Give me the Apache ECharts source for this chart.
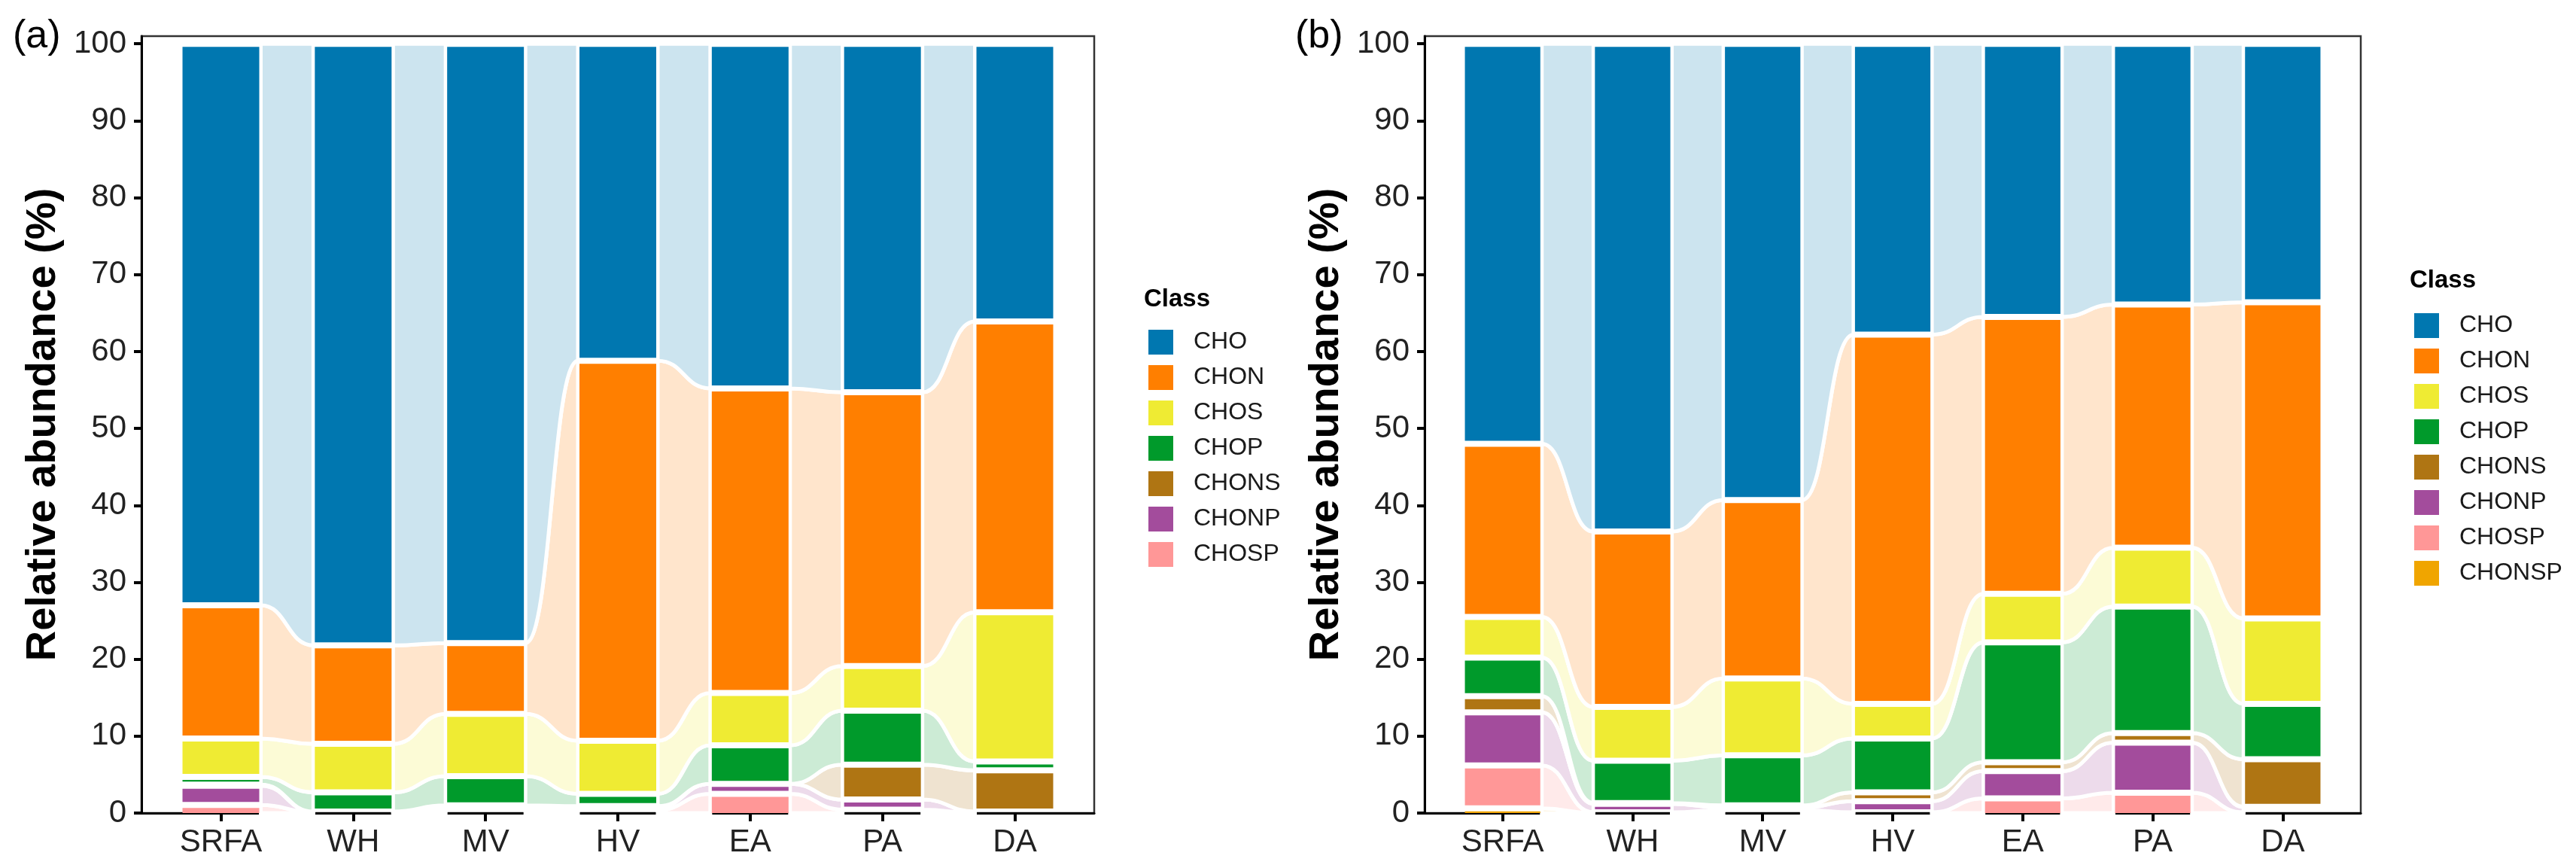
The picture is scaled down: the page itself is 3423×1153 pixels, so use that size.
<!DOCTYPE html>
<html>
<head>
    <meta charset="utf-8">
    <title>Alluvial</title>
    <script src="https://cdn.jsdelivr.net/npm/echarts@6/dist/echarts.min.js"></script>
    <style>
        html, body { margin: 0; padding: 0; background: #fff; }
    </style>
</head>
<body>
<div id="main" style="width: 3423px;height:1153px;"></div>
<script type="text/javascript">
    // samples and tick labels
    var samples = ['SRFA', 'WH', 'MV', 'HV', 'EA', 'PA', 'DA'];
    var yTicks = [0, 10, 20, 30, 40, 50, 60, 70, 80, 90, 100];
    var classesA = ['CHO', 'CHON', 'CHOS', 'CHOP', 'CHONS', 'CHONP', 'CHOSP'];
    var classesB = ['CHO', 'CHON', 'CHOS', 'CHOP', 'CHONS', 'CHONP', 'CHOSP', 'CHONSP'];

    // (a) relative abundance, %
    var A_CHO    = [73.0, 78.2, 77.9, 41.2, 44.8, 45.3, 36.1];
    var A_CHON   = [17.3, 12.8, 9.2, 49.4, 39.6, 35.6, 37.8];
    var A_CHOS   = [5.0, 6.3, 8.1, 6.9, 6.8, 5.8, 19.4];
    var A_CHOP   = [1.0, 2.5, 3.8, 1.6, 5.0, 7.0, 1.15];
    var A_CHONS  = [0.15, 0.0, 0.3, 0.1, 0.0, 4.55, 5.35];
    var A_CHONP  = [2.5, 0.1, 0.3, 0.4, 1.3, 1.3, 0.2];
    var A_CHOSP  = [1.05, 0.1, 0.4, 0.4, 2.5, 0.45, 0.0];

    // (b) relative abundance, %
    var B_CHO    = [52.0, 63.4, 59.3, 37.8, 35.5, 33.9, 33.6];
    var B_CHON   = [22.5, 22.8, 23.2, 48.0, 36.0, 31.6, 41.1];
    var B_CHOS   = [5.3, 7.0, 10.0, 4.5, 6.3, 7.65, 11.1];
    var B_CHOP   = [5.0, 5.5, 6.5, 7.0, 15.6, 16.45, 7.2];
    var B_CHONS  = [2.1, 0.1, 0.3, 1.15, 1.15, 1.25, 6.2];
    var B_CHONP  = [6.9, 1.1, 0.3, 1.45, 3.55, 6.5, 0.7];
    var B_CHOSP  = [5.6, 0.1, 0.4, 0.1, 1.9, 2.65, 0.1];
    var B_CHONSP = [0.6, 0.0, 0.0, 0.0, 0.0, 0.0, 0.0];

    var colors = {
        CHO: '#0077B0', CHON: '#FF7F00', CHOS: '#EFEB33', CHOP: '#009A2B',
        CHONS: '#AF7513', CHONP: '#A34C9C', CHOSP: '#FF9797', CHONSP: '#F0A500'
    };

    var FONT = 'Liberation Sans';
    var HALF = 0.29;   // half bar width, axis units

    function light(hex) {
        var r = parseInt(hex.substr(1, 2), 16), g = parseInt(hex.substr(3, 2), 16), b = parseInt(hex.substr(5, 2), 16);
        var m = function (c) { return Math.round(255 - 0.2 * (255 - c)); };
        return 'rgb(' + m(r) + ',' + m(g) + ',' + m(b) + ')';
    }

    var panels = [
        {classes: classesA, values: {CHO: A_CHO, CHON: A_CHON, CHOS: A_CHOS, CHOP: A_CHOP, CHONS: A_CHONS, CHONP: A_CHONP, CHOSP: A_CHOSP}},
        {classes: classesB, values: {CHO: B_CHO, CHON: B_CHON, CHOS: B_CHOS, CHOP: B_CHOP, CHONS: B_CHONS, CHONP: B_CHONP, CHOSP: B_CHOSP, CHONSP: B_CHONSP}}
    ];

    function renderBar(params, api) {
        var i = api.value(0), lo = api.value(1), hi = api.value(2);
        var a = api.coord([i - HALF, hi]);
        var b = api.coord([i + HALF, lo]);
        var top = a[1] + 4;
        var bottom = lo <= 0 ? b[1] : b[1] - 4;
        if (bottom - top < 0.8) return null;
        return {
            type: 'rect',
            shape: {x: a[0], y: top, width: b[0] - a[0], height: bottom - top},
            style: {fill: api.visual('color')}
        };
    }

    function renderFlow(params, api) {
        var i = api.value(0);
        var lo0 = api.value(1), hi0 = api.value(2), lo1 = api.value(3), hi1 = api.value(4);
        if (hi0 - lo0 <= 0 && hi1 - lo1 <= 0) return null;
        var xa = api.coord([i + HALF, 0])[0] + 2;
        var xb = api.coord([i + 1 - HALF, 0])[0] - 2;
        var xm = (xa + xb) / 2;
        var t0 = api.coord([i, hi0])[1], b0 = api.coord([i, lo0])[1];
        var t1 = api.coord([i, hi1])[1], b1 = api.coord([i, lo1])[1];
        var d = 'M' + xa + ' ' + t0 + ' C' + xm + ' ' + t0 + ' ' + xm + ' ' + t1 + ' ' + xb + ' ' + t1 +
            ' L' + xb + ' ' + b1 + ' C' + xm + ' ' + b1 + ' ' + xm + ' ' + b0 + ' ' + xa + ' ' + b0 + ' Z';
        return {
            type: 'path',
            shape: {pathData: d},
            style: {fill: light(api.visual('color')), stroke: '#fff', lineWidth: 5}
        };
    }

    var series = [];
    panels.forEach(function (p, pi) {
        var order = p.classes.slice().reverse();   // bottom to top
        var base = samples.map(function () { return 0; });
        order.forEach(function (cls) {
            var v = p.values[cls];
            var lo = base.slice();
            var hi = base.map(function (b, i) { return b + v[i]; });
            base = hi;
            var barData = [], flowData = [];
            for (var i = 0; i < samples.length; i++) {
                barData.push([i, lo[i], hi[i]]);
                if (i < samples.length - 1) flowData.push([i, lo[i], hi[i], lo[i + 1], hi[i + 1]]);
            }
            series.push({
                name: cls, type: 'custom', xAxisIndex: pi, yAxisIndex: pi, z: 1,
                itemStyle: {color: colors[cls]}, renderItem: renderFlow, data: flowData,
                encode: {x: 0, y: [1, 2, 3, 4]}, silent: true
            });
            series.push({
                name: cls, type: 'custom', xAxisIndex: pi, yAxisIndex: pi, z: 2,
                itemStyle: {color: colors[cls]}, renderItem: renderBar, data: barData,
                encode: {x: 0, y: [1, 2]}, silent: true
            });
        });
    });

    function xAxis(gi) {
        return {
            type: 'value', gridIndex: gi, min: -0.6, max: 6.6,
            splitLine: {show: false},
            axisLine: {show: true, onZero: false, lineStyle: {color: '#000', width: 3}},
            axisTick: {show: true, length: 11, customValues: [0, 1, 2, 3, 4, 5, 6], lineStyle: {color: '#000', width: 4}},
            axisLabel: {
                customValues: [0, 1, 2, 3, 4, 5, 6], margin: 18,
                formatter: function (v) { return samples[v]; },
                fontFamily: FONT, fontSize: 42, color: '#222'
            }
        };
    }

    function yAxis(gi) {
        return {
            type: 'value', gridIndex: gi, min: 0, max: 101, interval: 10,
            name: 'Relative abundance (%)', nameLocation: 'middle', nameRotate: 90, nameGap: 102,
            nameTextStyle: {fontFamily: FONT, fontSize: 56, fontWeight: 'bold', color: '#000'},
            splitLine: {show: false},
            axisLine: {show: true, onZero: false, lineStyle: {color: '#000', width: 3}},
            axisTick: {show: true, length: 10, customValues: yTicks, lineStyle: {color: '#000', width: 4}},
            axisLabel: {customValues: yTicks, margin: 20, fontFamily: FONT, fontSize: 42, color: '#222'}
        };
    }

    function legend(cls, left, top) {
        return {
            data: cls, orient: 'vertical', left: left, top: top,
            icon: 'rect', itemWidth: 33, itemHeight: 33, itemGap: 14,
            selectedMode: false,
            textStyle: {fontFamily: FONT, fontSize: 32, color: '#1a1a1a', padding: [0, 0, 0, 22], lineHeight: 33}
        };
    }

    var myChart = echarts.init(document.getElementById('main'), null, {renderer: 'canvas'});

    var option = {
        backgroundColor: '#fff',
        animation: false,
        title: [
            {text: '(a)', left: 12, top: 18, textStyle: {fontFamily: FONT, fontSize: 52, fontWeight: 'normal', color: '#000'}},
            {text: '(b)', left: 1716, top: 18, textStyle: {fontFamily: FONT, fontSize: 52, fontWeight: 'normal', color: '#000'}},
            {text: 'Class', left: 1515, top: 376, textStyle: {fontFamily: FONT, fontSize: 33, fontWeight: 'bold', color: '#000'}},
            {text: 'Class', left: 3197, top: 351, textStyle: {fontFamily: FONT, fontSize: 33, fontWeight: 'bold', color: '#000'}}
        ],
        legend: [legend(classesA, 1521, 433), legend(classesB, 3203, 411)],
        grid: [
            {left: 188, top: 48, width: 1266, height: 1032, show: true, borderColor: '#333', borderWidth: 2.5, backgroundColor: 'transparent'},
            {left: 1893, top: 48, width: 1244, height: 1032, show: true, borderColor: '#333', borderWidth: 2.5, backgroundColor: 'transparent'}
        ],
        xAxis: [xAxis(0), xAxis(1)],
        yAxis: [yAxis(0), yAxis(1)],
        series: series
    };

    myChart.setOption(option);
</script>
</body>
</html>
